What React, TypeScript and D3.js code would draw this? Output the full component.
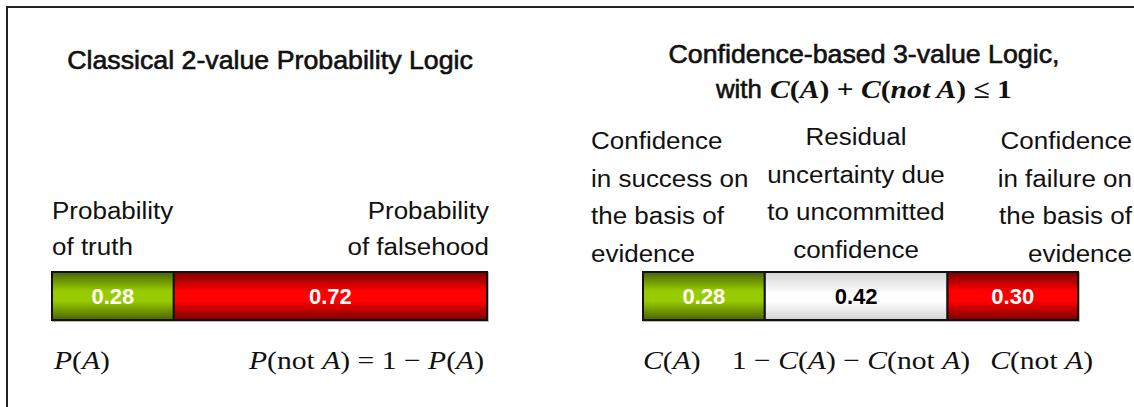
import React from 'react';
import * as d3 from 'd3';

// two-value panel
const classicalTitle = 'Classical 2-value Probability Logic';
const classicalValues = [0.28, 0.72];
const classicalKeys = ['truth', 'falsehood'];
const classicalLabels = [
  ['Probability', 'of truth'],
  ['Probability', 'of falsehood'],
];

// three-value panel
const confidenceTitle = 'Confidence-based 3-value Logic,';
const confidenceValues = [0.28, 0.42, 0.3];
const confidenceKeys = ['success', 'residual', 'failure'];
const confidenceLabels = [
  ['Confidence', 'in success on', 'the basis of', 'evidence'],
  ['Residual', 'uncertainty due', 'to uncommitted', 'confidence'],
  ['Confidence', 'in failure on', 'the basis of', 'evidence'],
];

const SANS = '"Liberation Sans", Arial, sans-serif';
const SERIF = '"Liberation Serif", "Times New Roman", serif';

const fills: Record<string, string> = {
  truth: 'url(#gGreen)',
  success: 'url(#gGreen)',
  falsehood: 'url(#gRed)',
  failure: 'url(#gRed)',
  residual: 'url(#gWhite)',
};
const textColor: Record<string, string> = {
  truth: '#fff',
  success: '#fff',
  falsehood: '#fff',
  failure: '#fff',
  residual: '#000',
};

const barTop = 272;
const barH = 48;

// stretched sans text, the source font is a bit wider than Arial
const Label = ({ x, y, anchor, size = 23, sx = 1.13, heavy = false, children }: any) => (
  <text
    transform={`translate(${x},${y}) scale(${sx},1)`}
    textAnchor={anchor}
    fontFamily={SANS}
    fontSize={size}
    fill="#111"
    stroke={heavy ? '#111' : 'none'}
    strokeWidth={heavy ? 0.6 : 0}
  >
    {children}
  </text>
);

// Cambria-ish math, stretched serif
const MathText = ({ x, y, anchor = 'start', bold = false, children }: any) => (
  <text
    transform={`translate(${x},${y}) scale(1.14,1)`}
    textAnchor={anchor}
    fontFamily={SERIF}
    fontSize={26}
    fontWeight={bold ? 'bold' : 'normal'}
    fill="#111"
  >
    {children}
  </text>
);

const StackBar = ({ values, keys, x0, x1 }: { values: number[]; keys: string[]; x0: number; x1: number }) => {
  const x = d3.scaleLinear().domain([0, d3.sum(values)]).range([x0, x1]);
  const ends = d3.cumsum(values);
  return (
    <g>
      <rect x={x0 + 1} y={barTop + 1} width={x1 - x0} height={barH} fill="none" stroke="#bbb" strokeWidth={2} />
      {values.map((v, i) => {
        const a = x(ends[i] - v);
        const b = x(ends[i]);
        return (
          <g key={i}>
            <rect x={a} y={barTop} width={b - a} height={barH} fill={fills[keys[i]]} stroke="#111" strokeWidth={2} />
            <text
              x={(a + b) / 2}
              y={barTop + barH / 2 + 8}
              textAnchor="middle"
              fontFamily={SANS}
              fontWeight="bold"
              fontSize={22}
              fill={textColor[keys[i]]}
            >
              {v.toFixed(2)}
            </text>
          </g>
        );
      })}
    </g>
  );
};

const I = ({ children }: any) => <tspan fontStyle="italic">{children}</tspan>;

export default function App() {
  return (
    <svg width={1134} height={407} style={{ position: 'absolute', left: 0, top: 0, background: '#fff' }}>
      <defs>
        <linearGradient id="gGreen" x1="0" y1="0" x2="0" y2="1">
          <stop offset="0" stopColor="#4a6400" />
          <stop offset="0.4" stopColor="#99cc00" />
          <stop offset="0.6" stopColor="#99cc00" />
          <stop offset="1" stopColor="#4a6400" />
        </linearGradient>
        <linearGradient id="gRed" x1="0" y1="0" x2="0" y2="1">
          <stop offset="0" stopColor="#7a0000" />
          <stop offset="0.4" stopColor="#ff0000" />
          <stop offset="0.6" stopColor="#ff0000" />
          <stop offset="1" stopColor="#7a0000" />
        </linearGradient>
        <linearGradient id="gWhite" x1="0" y1="0" x2="0" y2="1">
          <stop offset="0" stopColor="#d4d4d4" />
          <stop offset="0.45" stopColor="#ffffff" />
          <stop offset="0.6" stopColor="#ffffff" />
          <stop offset="1" stopColor="#d4d4d4" />
        </linearGradient>
      </defs>

      {/* frame */}
      <rect x={7} y={7} width={1140} height={420} fill="none" stroke="#222" strokeWidth={2} />

      {/* left panel */}
      <Label x={270} y={69} anchor="middle" size={25} sx={1.07} heavy>{classicalTitle}</Label>
      {classicalLabels[0].map((t, i) => (
        <Label key={'l' + i} x={52} y={219 + i * 36} anchor="start">{t}</Label>
      ))}
      {classicalLabels[1].map((t, i) => (
        <Label key={'r' + i} x={489} y={219 + i * 36} anchor="end">{t}</Label>
      ))}
      <StackBar values={classicalValues} keys={classicalKeys} x0={52} x1={487} />
      <MathText x={54} y={369}>
        <I>P</I>(<I>A</I>)
      </MathText>
      <MathText x={484} y={369} anchor="end">
        <I>P</I>(not <I>A</I>) = 1 − <I>P</I>(<I>A</I>)
      </MathText>

      {/* right panel */}
      <Label x={864} y={63} anchor="middle" size={25} sx={1.07} heavy>{confidenceTitle}</Label>
      <Label x={716} y={98} anchor="start" size={25} sx={1.03} heavy>with</Label>
      <MathText x={770} y={98} bold>
        <I>C</I>(<I>A</I>) + <I>C</I>(<I>not A</I>) ≤ 1
      </MathText>
      {confidenceLabels[0].map((t, i) => (
        <Label key={'a' + i} x={591} y={149 + i * 37.5} anchor="start">{t}</Label>
      ))}
      {confidenceLabels[1].map((t, i) => (
        <Label key={'b' + i} x={856} y={145 + i * 37.5} anchor="middle">{t}</Label>
      ))}
      {confidenceLabels[2].map((t, i) => (
        <Label key={'c' + i} x={1132} y={149 + i * 37.5} anchor="end">{t}</Label>
      ))}
      <StackBar values={confidenceValues} keys={confidenceKeys} x0={643} x1={1078} />
      <MathText x={643} y={369}>
        <I>C</I>(<I>A</I>)
      </MathText>
      <MathText x={851} y={369} anchor="middle">
        1 − <I>C</I>(<I>A</I>) − <I>C</I>(not <I>A</I>)
      </MathText>
      <MathText x={1093} y={369} anchor="end">
        <I>C</I>(not <I>A</I>)
      </MathText>
    </svg>
  );
}
